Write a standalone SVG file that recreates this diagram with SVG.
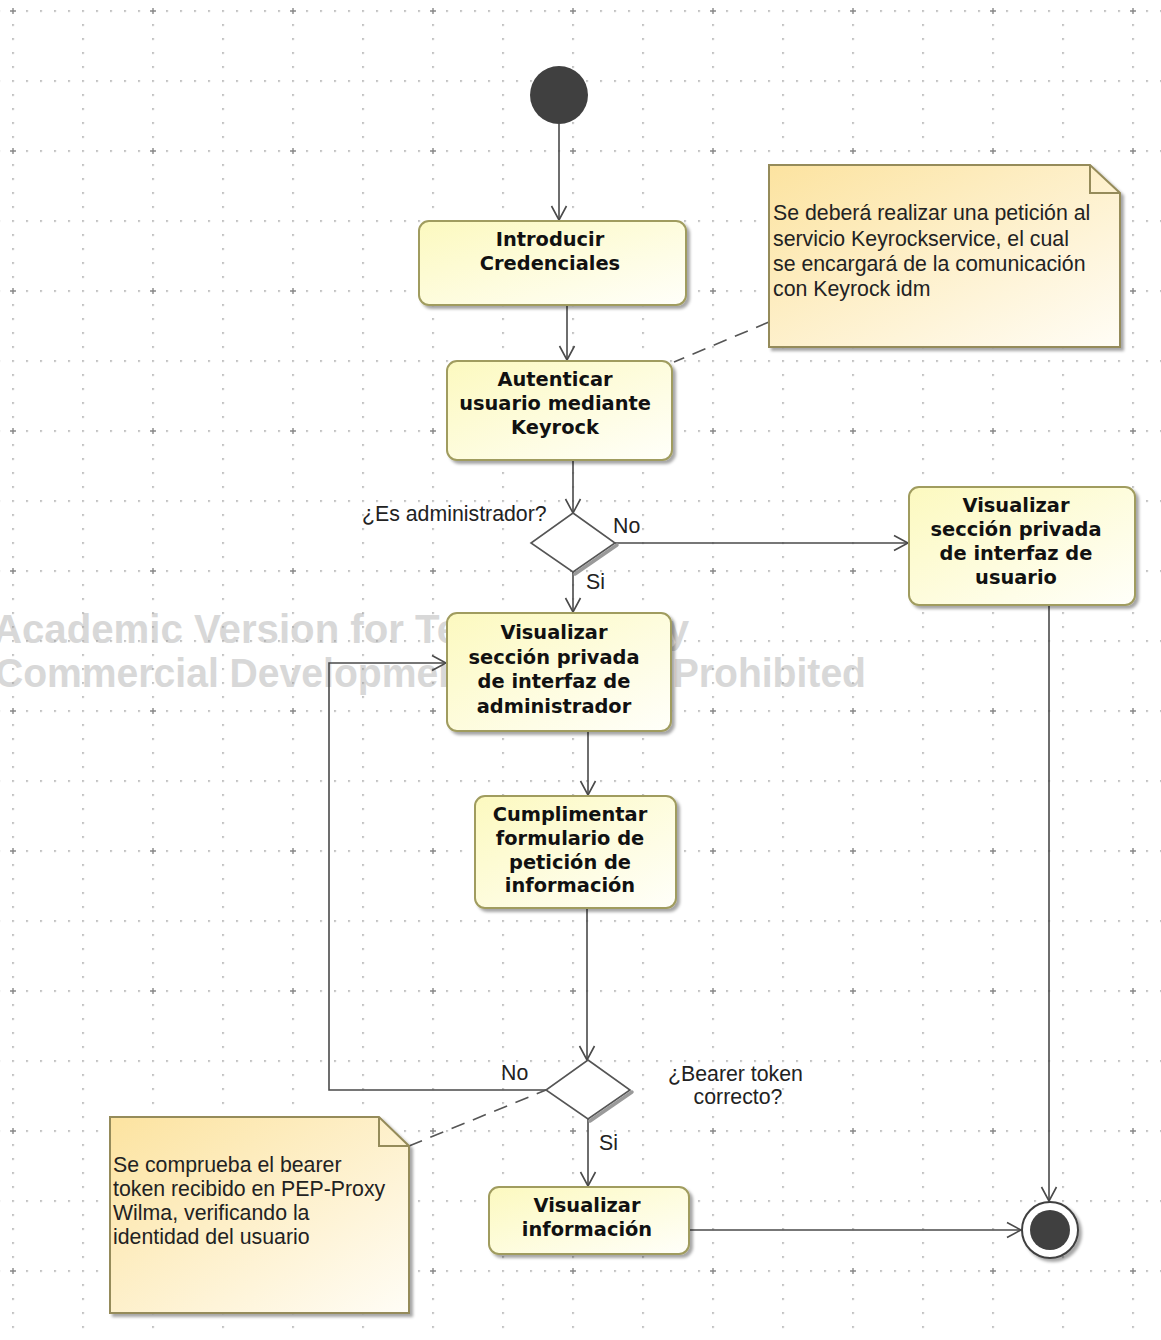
<svg xmlns="http://www.w3.org/2000/svg" width="1161" height="1340" viewBox="0 0 1161 1340">
  <defs>
    <style>
      .act { fill: url(#actFill); stroke: #a09c5e; stroke-width: 2; filter: url(#shadow); }
      .note { fill: url(#noteFill); stroke: #958b5a; stroke-width: 2; filter: url(#shadow); }
      .fold { fill: none; stroke: #958b5a; stroke-width: 2; }
      .lbl { font-family: "DejaVu Sans", "Liberation Sans", sans-serif; font-weight: bold; font-size: 19.4px; fill: #111; text-anchor: middle; }
      .txt { font-family: "Liberation Sans", Arial, sans-serif; font-size: 21.3px; fill: #222; }
      .edge { fill: none; stroke: #4a4a4a; stroke-width: 1.6; }
      .arrow { fill: none; stroke: #4a4a4a; stroke-width: 1.6; marker-end: url(#open); }
      .dash { fill: none; stroke: #555; stroke-width: 1.6; stroke-dasharray: 14 9; }
      .wm { font-family: "Liberation Sans", Arial, sans-serif; font-weight: bold; font-size: 40px; fill: #d8d8d8; }
    </style>
    <linearGradient id="actFill" x1="0" y1="0" x2="1" y2="1">
      <stop offset="0" stop-color="#fcf9bf"/>
      <stop offset="1" stop-color="#fffffa"/>
    </linearGradient>
    <linearGradient id="noteFill" x1="0" y1="0" x2="1" y2="1">
      <stop offset="0" stop-color="#fce3a0"/>
      <stop offset="1" stop-color="#fffdf6"/>
    </linearGradient>
    <filter id="shadow" x="-10%" y="-10%" width="130%" height="130%">
      <feDropShadow dx="3" dy="3" stdDeviation="1.6" flood-color="#000" flood-opacity="0.35"/>
    </filter>
    <marker id="open" viewBox="-16 -9 18 18" markerWidth="18" markerHeight="18" refX="0" refY="0" orient="auto" markerUnits="userSpaceOnUse">
      <path d="M-14,-7.5 L0,0 L-14,7.5" fill="none" stroke="#4a4a4a" stroke-width="1.6"/>
    </marker>
    <!-- dotted drawing grid: 70px cells, 14px dot pitch -->
    <pattern id="dots" patternUnits="userSpaceOnUse" x="12.2" y="10.2" width="70" height="70">
      <g fill="#9c9c9c">
        <rect x="0" y="0" width="1.6" height="1.6"/>
        <rect x="14" y="0" width="1.6" height="1.6"/>
        <rect x="28" y="0" width="1.6" height="1.6"/>
        <rect x="42" y="0" width="1.6" height="1.6"/>
        <rect x="56" y="0" width="1.6" height="1.6"/>
        <rect x="0" y="14" width="1.6" height="1.6"/>
        <rect x="0" y="28" width="1.6" height="1.6"/>
        <rect x="0" y="42" width="1.6" height="1.6"/>
        <rect x="0" y="56" width="1.6" height="1.6"/>
      </g>
    </pattern>
    <pattern id="crosses" patternUnits="userSpaceOnUse" x="-57" y="-59" width="140" height="140">
      <path d="M67,70 H73 M70,67 V73" stroke="#8a8a8a" stroke-width="1.4"/>
    </pattern>
  </defs>

  <rect width="1161" height="1340" fill="#ffffff"/>

  <!-- watermark -->
  <g id="watermark">
    <text class="wm" x="-7" y="643" textLength="696" lengthAdjust="spacingAndGlyphs">Academic Version for Teaching Only</text>
    <text class="wm" x="-5" y="687" textLength="871" lengthAdjust="spacingAndGlyphs">Commercial Development is Strictly Prohibited</text>
  </g>

  <rect width="1161" height="1340" fill="url(#dots)"/>
  <rect width="1161" height="1340" fill="url(#crosses)"/>

  <!-- connectors -->
  <g id="connectors">
    <path class="arrow" d="M559,124 V220"/>
    <path class="arrow" d="M567,305 V360"/>
    <path class="arrow" d="M573,460 V513"/>
    <path class="arrow" d="M573,572 V612"/>
    <path class="arrow" d="M615,543 H908"/>
    <path class="arrow" d="M588,731 V795"/>
    <path class="arrow" d="M587,908 V1060"/>
    <path class="arrow" d="M588,1118 V1186"/>
    <path class="arrow" d="M546,1090 H329 V663 H446"/>
    <path class="arrow" d="M1049,605 V1201"/>
    <path class="arrow" d="M689,1230 H1021"/>
    <path class="dash" d="M769,322 L674,362"/>
    <path class="dash" d="M409,1146 L546,1090"/>
    <text class="txt" x="362" y="521">¿Es administrador?</text>
    <text class="txt" x="613" y="533">No</text>
    <text class="txt" x="586" y="589">Si</text>
    <text class="txt" x="501" y="1080">No</text>
    <text class="txt" x="668" y="1081">¿Bearer token</text>
    <text class="txt" x="738" y="1104" text-anchor="middle">correcto?</text>
    <text class="txt" x="599" y="1150">Si</text>
  </g>

  <!-- initial node -->
  <g id="start">
    <circle cx="559" cy="95" r="29" fill="#404040"/>
  </g>

  <g id="introducir-credenciales">
    <rect class="act" x="419" y="221" width="267" height="84" rx="10"/>
    <text class="lbl" x="550" y="246">Introducir</text>
    <text class="lbl" x="550" y="270">Credenciales</text>
  </g>

  <g id="autenticar-usuario">
    <rect class="act" x="447" y="361" width="225" height="99" rx="10"/>
    <text class="lbl" x="555" y="386">Autenticar</text>
    <text class="lbl" x="555" y="410">usuario mediante</text>
    <text class="lbl" x="555" y="434">Keyrock</text>
  </g>

  <g id="es-administrador">
    <polyline points="617,545 575,574" fill="none" stroke="#9a9a9a" stroke-width="3.5" stroke-linecap="round"/>
    <polygon points="573,513 615,543 573,572 531,543" fill="#ffffff" stroke="#555" stroke-width="1.6"/>
  </g>

  <g id="seccion-usuario">
    <rect class="act" x="909" y="487" width="226" height="118" rx="10"/>
    <text class="lbl" x="1016" y="512">Visualizar</text>
    <text class="lbl" x="1016" y="536">sección privada</text>
    <text class="lbl" x="1016" y="560">de interfaz de</text>
    <text class="lbl" x="1016" y="584">usuario</text>
  </g>

  <g id="seccion-administrador">
    <rect class="act" x="447" y="613" width="224" height="118" rx="10"/>
    <text class="lbl" x="554" y="639">Visualizar</text>
    <text class="lbl" x="554" y="663.5">sección privada</text>
    <text class="lbl" x="554" y="688">de interfaz de</text>
    <text class="lbl" x="554" y="712.5">administrador</text>
  </g>

  <g id="cumplimentar-formulario">
    <rect class="act" x="475" y="796" width="201" height="112" rx="10"/>
    <text class="lbl" x="570" y="821">Cumplimentar</text>
    <text class="lbl" x="570" y="845">formulario de</text>
    <text class="lbl" x="570" y="868.5">petición de</text>
    <text class="lbl" x="570" y="892">información</text>
  </g>

  <g id="bearer-token">
    <polyline points="632,1092 590,1121" fill="none" stroke="#9a9a9a" stroke-width="3.5" stroke-linecap="round"/>
    <polygon points="588,1060 630,1090 588,1119 546,1090" fill="#ffffff" stroke="#555" stroke-width="1.6"/>
  </g>

  <g id="visualizar-informacion">
    <rect class="act" x="489" y="1187" width="200" height="67" rx="10"/>
    <text class="lbl" x="587" y="1212">Visualizar</text>
    <text class="lbl" x="587" y="1236">información</text>
  </g>

  <!-- final node -->
  <g id="end">
    <circle cx="1050" cy="1230" r="28" fill="#ffffff" stroke="#404040" stroke-width="2" filter="url(#shadow)"/>
    <circle cx="1050" cy="1230" r="20" fill="#404040"/>
  </g>

  <g id="note-keyrock">
    <path class="note" d="M769,165 H1090 L1120,193 V347 H769 Z"/>
    <path class="fold" d="M1090,165 V193 H1120"/>
    <text class="txt" x="773" y="220">Se deberá realizar una petición al</text>
    <text class="txt" x="773" y="245.5">servicio Keyrockservice, el cual</text>
    <text class="txt" x="773" y="271">se encargará de la comunicación</text>
    <text class="txt" x="773" y="296">con Keyrock idm</text>
  </g>

  <g id="note-bearer">
    <path class="note" d="M110,1117 H379 L409,1146 V1313 H110 Z"/>
    <path class="fold" d="M379,1117 V1146 H409"/>
    <text class="txt" x="113" y="1172">Se comprueba el bearer</text>
    <text class="txt" x="113" y="1196">token recibido en PEP-Proxy</text>
    <text class="txt" x="113" y="1220">Wilma, verificando la</text>
    <text class="txt" x="113" y="1244">identidad del usuario</text>
  </g>
</svg>
